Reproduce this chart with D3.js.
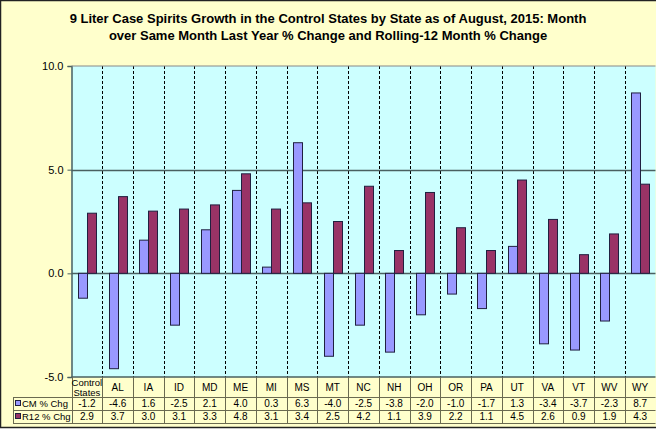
<!DOCTYPE html>
<html><head><meta charset="utf-8">
<script src="https://cdn.jsdelivr.net/npm/d3@7"></script>
<style>body{margin:0;background:#fff}svg{display:block}text{font-family:"Liberation Sans",Arial,sans-serif}</style>
</head><body>
<script>
const categories = ["Control States","AL","IA","ID","MD","ME","MI","MS","MT","NC","NH","OH","OR","PA","UT","VA","VT","WV","WY"];
const cmValues  = [-1.2,-4.6,1.6,-2.5,2.1,4.0,0.3,6.3,-4.0,-2.5,-3.8,-2.0,-1.0,-1.7,1.3,-3.4,-3.7,-2.3,8.7];
const r12Values = [2.9,3.7,3.0,3.1,3.3,4.8,3.1,3.4,2.5,4.2,1.1,3.9,2.2,1.1,4.5,2.6,0.9,1.9,4.3];
const seriesNames = ["CM % Chg","R12 % Chg"];
const yTicks = [-5,0,5,10];
const titleLines = ["9 Liter Case Spirits Growth in the Control States by State as of August, 2015: Month","over Same Month Last Year % Change and Rolling-12 Month % Change"];

(function(){
const W=656,H=429;
const fmt=v=>v.toFixed(1);
const svg=d3.select("body").append("svg").attr("width",W).attr("height",H);
svg.append("rect").attr("x",0.5).attr("y",0.5).attr("width",W+10).attr("height",H-2).attr("fill","#FFFFCC").attr("stroke","#222").attr("stroke-width",1.5);

const pL=71.5,pR=655.5,pT=66,pB=377;
const x=d3.scaleBand().domain(categories).range([pL,pR]);
const y=d3.scaleLinear().domain([-5,10]).range([pB,pT]);
const colors=["#9999FF","#993366"];

svg.append("g").selectAll("text").data(titleLines).join("text")
  .attr("x",328).attr("y",(d,i)=>23+i*17).attr("text-anchor","middle")
  .attr("font-size","13px").attr("font-weight","bold").attr("fill","#000").text(d=>d);

svg.append("rect").attr("x",pL).attr("y",pT).attr("width",pR-pL).attr("height",pB-pT).attr("fill","#CCFFFF");

svg.append("g").selectAll("line").data(categories.slice(1)).join("line")
  .attr("x1",d=>Math.round(x(d))+0.5).attr("x2",d=>Math.round(x(d))+0.5)
  .attr("y1",pT).attr("y2",pB).attr("stroke","#000").attr("stroke-width",1).attr("stroke-dasharray","3,2");

svg.append("g").selectAll("line").data(yTicks.filter(t=>t>-5&&t<10)).join("line")
  .attr("x1",pL).attr("x2",pR).attr("y1",d=>Math.round(y(d))+0.5).attr("y2",d=>Math.round(y(d))+0.5)
  .attr("stroke","#4a6060").attr("stroke-width",1.5);

const bw=9;
const g=svg.append("g");
categories.forEach((c,i)=>{
  const cx=x(c)+x.bandwidth()/2;
  [cmValues[i],r12Values[i]].forEach((v,s)=>{
    const bx=s===0?cx-bw:cx;
    g.append("rect").attr("x",Math.round(bx)+0.5).attr("width",bw)
      .attr("y",Math.min(y(v),y(0))).attr("height",Math.abs(y(v)-y(0)))
      .attr("fill",colors[s]).attr("stroke","#202040").attr("stroke-width",1);
  });
});

const ya=svg.append("g").attr("transform",`translate(${pL},0)`)
  .call(d3.axisLeft(y).tickValues(yTicks).tickFormat(fmt).tickSize(4).tickPadding(4));
ya.select(".domain").attr("stroke","#4a6060").attr("stroke-width",1.5);
ya.selectAll(".tick line").attr("stroke","#4a6060");
ya.selectAll("text").attr("font-size","11px").attr("fill","#000").attr("font-family","Liberation Sans,Arial,sans-serif");

svg.append("line").attr("x1",pL).attr("x2",pR).attr("y1",pT).attr("y2",pT).attr("stroke","#888").attr("stroke-width",1);

const rowY=[377,397,410,423];
const tg=svg.append("g");
const lc="#6a6a50";
tg.append("line").attr("x1",pL).attr("x2",pR).attr("y1",pB).attr("y2",pB).attr("stroke","#4a6060").attr("stroke-width",1.5);
[397,410,423].forEach(yy=>tg.append("line").attr("x1",13).attr("x2",pR).attr("y1",yy+0.5).attr("y2",yy+0.5).attr("stroke",lc));
tg.append("line").attr("x1",13.5).attr("x2",13.5).attr("y1",397).attr("y2",423).attr("stroke",lc);
categories.forEach(c=>{
  const xx=Math.round(x(c))+0.5;
  tg.append("line").attr("x1",xx).attr("x2",xx).attr("y1",377).attr("y2",423).attr("stroke",lc);
});
categories.forEach(c=>{
  const cx=x(c)+x.bandwidth()/2;
  if(c==="Control States"){
    tg.append("text").attr("x",cx).attr("y",386).attr("text-anchor","middle").attr("font-size","9.5px").text("Control");
    tg.append("text").attr("x",cx).attr("y",396).attr("text-anchor","middle").attr("font-size","9.5px").text("States");
  } else {
    tg.append("text").attr("x",cx).attr("y",391).attr("text-anchor","middle").attr("font-size","10px").text(c);
  }
});
[cmValues,r12Values].forEach((vals,s)=>{
  const ty=rowY[s+1]+10;
  vals.forEach((v,i)=>{
    tg.append("text").attr("x",x(categories[i])+x.bandwidth()/2).attr("y",ty).attr("text-anchor","middle")
      .attr("font-size","10px").text(fmt(v));
  });
  tg.append("rect").attr("x",15.5).attr("y",rowY[s+1]+3.5).attr("width",5).attr("height",5).attr("fill",colors[s]).attr("stroke","#202040");
  tg.append("text").attr("x",22).attr("y",ty).attr("font-size","9.5px").text(seriesNames[s]);
});
})();
</script>
</body></html>
